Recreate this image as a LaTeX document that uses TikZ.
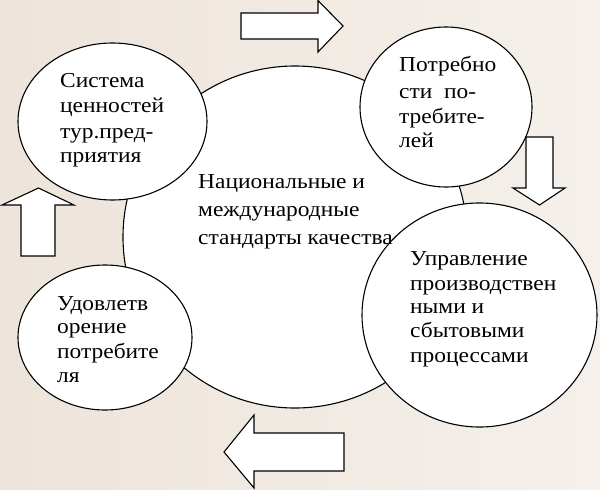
\documentclass[tikz,border=0pt]{standalone}
\usepackage{fontspec}
\setmainfont{Liberation Serif}[FakeStretch=1.1]
\usetikzlibrary{shapes.geometric}
\definecolor{bgl}{RGB}{237,228,219}
\definecolor{bgr}{RGB}{245,240,235}
\begin{document}
\begin{tikzpicture}[x=1pt,y=-1pt,
  circ/.style={ellipse, draw=black, line width=1.1pt, fill=white, inner sep=0pt},
  lbl/.style={anchor=base west, inner sep=0pt, font=\fontsize{21.3}{21.3}\selectfont, text=black},
  blockarrow/.style={draw=black, line width=1.1pt, fill=white, line join=miter}]
\useasboundingbox (0,0) rectangle (600,490);
\shade[left color=bgl, right color=bgr] (0,0) rectangle (600,490);
% circles
\node[circ, minimum width=344pt, minimum height=342pt] (big) at (295,237) {};
\node[circ, minimum width=189pt, minimum height=157pt] (sys) at (112.5,121.5) {};
\node[circ, minimum width=172pt, minimum height=160pt] (need) at (446,107) {};
\node[circ, minimum width=235pt, minimum height=224pt] (mgmt) at (479.5,315) {};
\node[circ, minimum width=174pt, minimum height=145pt] (sat) at (105,337.5) {};
% texts
\node[lbl] (c1) at (198,188) {Национальные и};
\node[lbl] (c2) at (198,216) {международные};
\node[lbl] (c3) at (198,244) {стандарты качества};
\node[lbl] (s1) at (60,87) {Система};
\node[lbl] (s2) at (60,112) {ценностей};
\node[lbl] (s3) at (60,138) {тур.пред-};
\node[lbl] (s4) at (60,162) {приятия};
\node[lbl] (n1) at (399,71) {Потребно};
\node[lbl] (n2) at (399,98) {сти\ \ по-};
\node[lbl] (n3) at (399,123) {требите-};
\node[lbl] (n4) at (399,147) {лей};
\node[lbl] (m1) at (410,265) {Управление};
\node[lbl] (m2) at (410,290) {производствен};
\node[lbl] (m3) at (410,313) {ными и};
\node[lbl] (m4) at (410,337) {сбытовыми};
\node[lbl] (m5) at (410,362) {процессами};
\node[lbl] (u1) at (57,310) {Удовлетв};
\node[lbl] (u2) at (57,333) {орение};
\node[lbl] (u3) at (57,358) {потребите};
\node[lbl] (u4) at (57,382) {ля};
% block arrows
\draw[blockarrow] (241,13) -- (318,13) -- (318,0.5) -- (343,26) -- (318,52) -- (318,39) -- (241,39) -- cycle;
\draw[blockarrow] (526,137) -- (553,137) -- (553,188) -- (565,188) -- (539.5,205) -- (513,188) -- (526,188) -- cycle;
\draw[blockarrow] (21,256) -- (21,205) -- (2,205) -- (38.5,188) -- (74,205) -- (55,205) -- (55,256) -- cycle;
\draw[blockarrow] (344,433) -- (254,433) -- (254,415) -- (224,452) -- (254,488) -- (254,471) -- (344,471) -- cycle;
\end{tikzpicture}
\end{document}
